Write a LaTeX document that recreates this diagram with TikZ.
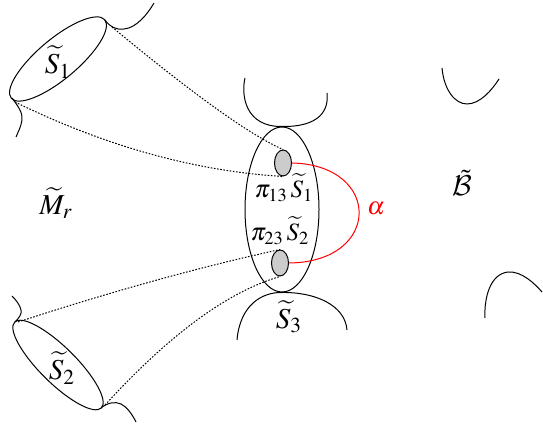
\documentclass[tikz,border=0pt]{standalone}
\usepackage{amsmath,amssymb}
\usepackage{mathptmx}
\usepackage{tikz}
\usetikzlibrary{shapes.geometric}
\DeclareMathAlphabet{\mathcal}{OMS}{cmsy}{m}{n}

\begin{document}
\begin{tikzpicture}[
  x=0.5bp, y=-0.5bp,
  font=\fontsize{12.5}{14}\selectfont,
  curve/.style={line width=0.5pt},
  link/.style={line width=0.5pt, dash pattern=on 0.8pt off 0.8pt},
  disc/.style={draw, ellipse, fill=gray!40, inner sep=0pt, minimum width=8.5bp,
               minimum height=13bp, line width=0.5pt},
  fibre/.style={draw, ellipse, inner sep=0pt, line width=0.5pt},
  loopline/.style={red, line width=0.5pt},
  biglabel/.style={inner sep=0pt, font=\fontsize{14.5}{16}\selectfont}
]
  \useasboundingbox (0,0) rectangle (543,424);

  % Central fibre S_3
  \node[fibre, minimum width=37bp, minimum height=82.5bp] (fib3) at (282,209.5) {};
  \node[disc] (disc13) at (283,163) {};
  \node[disc] (disc23) at (280,263) {};
  \node[inner sep=0pt] (lbl13) at (284,188) {$\pi_{13}\,\widetilde{S}_1$};
  \node[inner sep=0pt] (lbl23) at (280,231) {$\pi_{23}\,\widetilde{S}_2$};
  \node[biglabel] (lbl3) at (289,317) {$\widetilde{S}_3$};
  \draw[curve] (245,78) .. controls (241,95) and (245,127) .. (fib3.north)
               .. controls (320,127) and (329,110) .. (327,93);
  \draw[curve] (237,340) .. controls (240,305) and (262,292) .. (fib3.south)
               .. controls (315,292) and (345,305) .. (347,330);

  % Upper fibre S_1
  \draw[curve, rotate around={40:(58,59)}] (58,59) ellipse [x radius=61, y radius=20];
  \node[biglabel] (lbl1) at (58,62) {$\widetilde{S}_1$};
  \coordinate (s1_ne) at (105,20);
  \coordinate (s1_sw) at (12,98);
  \draw[curve] (s1_ne) .. controls (110,27) and (116,30) .. (124,29)
               .. controls (136,28) and (147,15) .. (154,3);
  \draw[curve] (s1_sw) .. controls (18,106) and (23,113) .. (22,120)
               .. controls (21,127) and (18,132) .. (16,137);
  \coordinate (s1_a) at (112,27);
  \coordinate (s1_b) at (15,102);

  % Lower fibre S_2
  \draw[curve, rotate around={-44.7:(58,365)}] (58,365) ellipse [x radius=61, y radius=18];
  \node[biglabel] (lbl2) at (62,368) {$\widetilde{S}_2$};
  \coordinate (s2_nw) at (15,322);
  \coordinate (s2_se) at (101,408);
  \draw[curve] (s2_nw) .. controls (19,318) and (22,314) .. (21,310)
               .. controls (20,305) and (16,300) .. (12,296);
  \draw[curve] (s2_se) .. controls (107,403) and (115,401) .. (121,404)
               .. controls (127,407) and (132,414) .. (136,422);
  \coordinate (s2_a) at (18,322);
  \coordinate (s2_b) at (105,405);

  % Cones onto the discs
  \draw[link] (s1_a) .. controls (194,95) and (250,135) .. (disc13.north);
  \draw[link] (s1_b) .. controls (105,146) and (194,171) .. (disc13.south);
  \draw[link] (s2_a) .. controls (113,291) and (200,267) .. (disc23.north);
  \draw[link] (s2_b) .. controls (169,335) and (227,292) .. (disc23.south);

  % Loop alpha
  \draw[loopline] (disc13.east) .. controls (382,165) and (382,262) .. (disc23.east);
  \node[red, inner sep=0pt] (lblalpha) at (376,209) {$\alpha$};

  % Labels and boundary pieces
  \node[biglabel] (lblM) at (56,203) {$\widetilde{M}_r$};
  \node[biglabel] (lblB) at (462,183) {$\tilde{\mathcal{B}}$};
  \draw[curve] (442,68) .. controls (444,90) and (455,104) .. (467,104)
               .. controls (480,104) and (492,90) .. (499,79);
  \draw[curve] (485,318) .. controls (484,298) and (490,274) .. (508,272)
               .. controls (522,271) and (535,284) .. (542,292);
\end{tikzpicture}
\end{document}
